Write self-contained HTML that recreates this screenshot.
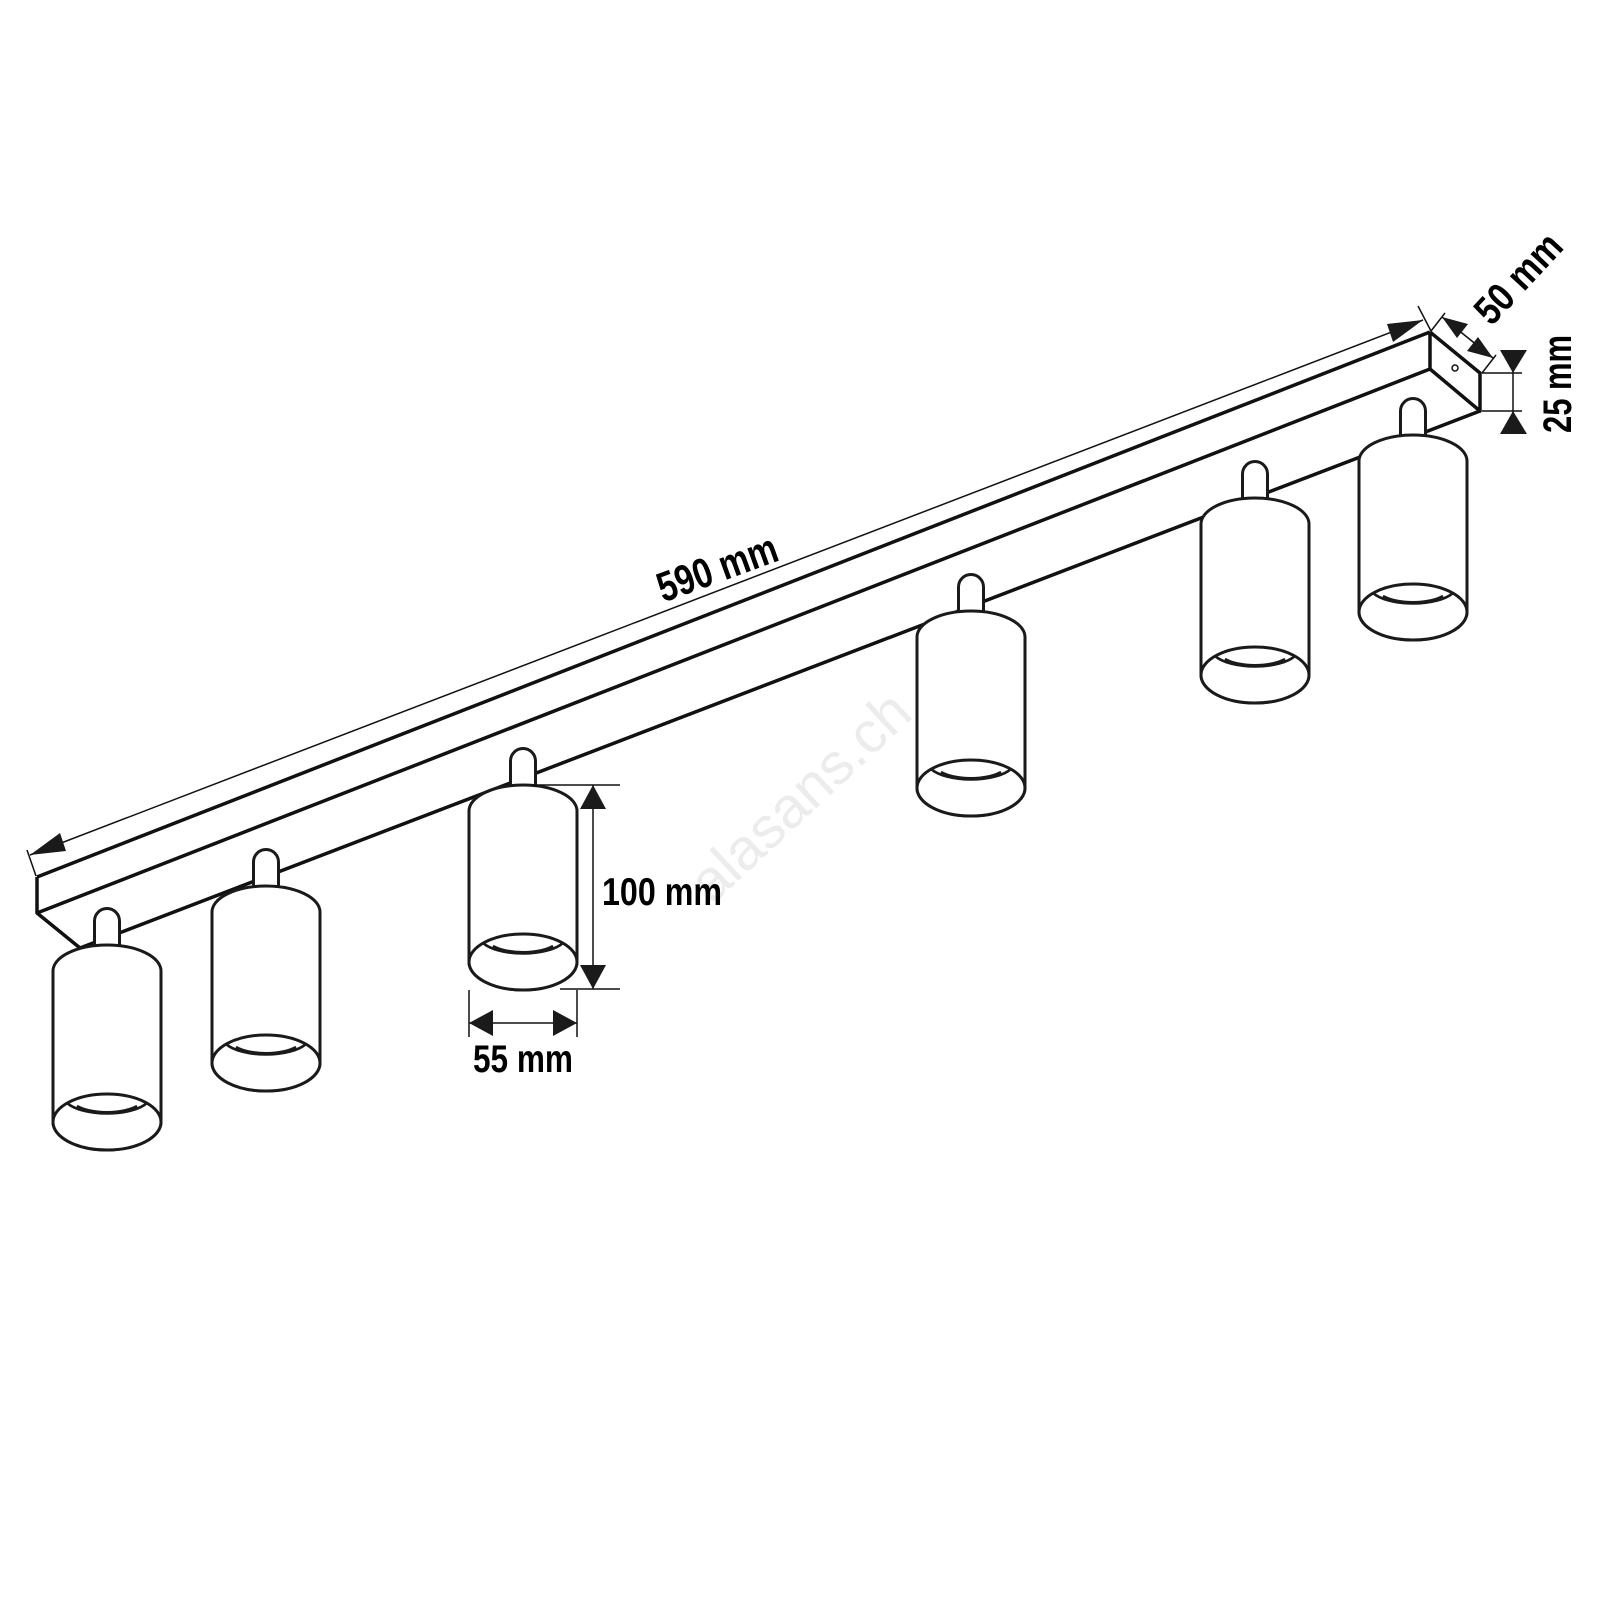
<!DOCTYPE html>
<html><head><meta charset="utf-8"><style>html,body{margin:0;padding:0;background:#fff}svg{display:block}</style></head><body>
<svg width="1600" height="1600" viewBox="0 0 1600 1600" xmlns="http://www.w3.org/2000/svg">
<defs>
<g id="lamp">
 <path d="M-12.5,2 V-24 A12.5,12.5 0 0 1 12.5,-24 V2" fill="#fff" stroke="#1a1a1a" stroke-width="3"/>
 <path d="M-54,26 A54,26 0 0 1 54,26 V177 A54,28 0 0 1 -54,177 Z" fill="#fff" stroke="#1a1a1a" stroke-width="3"/>
 <ellipse cx="0" cy="177" rx="54" ry="28" fill="#fff" stroke="#1a1a1a" stroke-width="3"/>
 <path d="M-40,158 A44,18 0 0 0 40,158" fill="none" stroke="#1a1a1a" stroke-width="2.6"/>
 <path d="M-30,161 A36,14 0 0 0 30,161" fill="none" stroke="#1a1a1a" stroke-width="2.6"/>
</g>
</defs>
<text x="803" y="815" font-family="Liberation Sans, sans-serif" font-size="58" fill="#ececec" text-anchor="middle" transform="rotate(-43 803 800)">alasans.ch</text>
<g stroke="#111" stroke-width="3.5" fill="none" stroke-linejoin="round">
 <line x1="37" y1="877" x2="1430" y2="332"/>
 <line x1="37" y1="913" x2="1430" y2="369"/>
 <line x1="80" y1="948" x2="1480" y2="411"/>
 <polyline points="37,877 37,913 80,948"/>
 <polyline points="1430,332 1480,373 1480,411 1430,369 1430,332"/>
</g>
<circle cx="1455" cy="368" r="3" fill="none" stroke="#111" stroke-width="1.5"/>
<g stroke="#111" stroke-width="1.5">
 <line x1="30" y1="855" x2="1423" y2="320"/>
 <line x1="27" y1="850" x2="36" y2="876"/>
 <line x1="1418" y1="306" x2="1431" y2="331"/>
</g>
<polygon points="30,855 60,833 66,851" fill="#1a1a1a"/>
<polygon points="1423,320 1387,324 1393,342" fill="#1a1a1a"/>
<text x="718" y="582" textLength="125" lengthAdjust="spacingAndGlyphs" font-family="Liberation Sans, sans-serif" font-weight="bold" font-size="42" fill="#000" text-anchor="middle" transform="rotate(-20 718 570)">590 mm</text>
<g stroke="#111" stroke-width="1.5">
 <line x1="1442" y1="317" x2="1493" y2="358"/>
 <line x1="1445" y1="313" x2="1431" y2="331"/>
 <line x1="1496" y1="355" x2="1482" y2="373"/>
</g>
<polygon points="1442,317 1468,324 1457,338" fill="#1a1a1a"/>
<polygon points="1493,358 1467,351 1478,337" fill="#1a1a1a"/>
<text x="1518" y="292" textLength="108" lengthAdjust="spacingAndGlyphs" font-family="Liberation Sans, sans-serif" font-weight="bold" font-size="40" fill="#000" text-anchor="middle" transform="rotate(-47 1518 278)">50 mm</text>
<g stroke="#111" stroke-width="1.5">
 <line x1="1482" y1="373" x2="1522" y2="373"/>
 <line x1="1482" y1="411" x2="1522" y2="411"/>
 <line x1="1513" y1="350" x2="1513" y2="432"/>
</g>
<polygon points="1513,373 1500,350 1527,350" fill="#1a1a1a"/>
<polygon points="1513,411 1500,434 1527,434" fill="#1a1a1a"/>
<text x="1557" y="398" textLength="98" lengthAdjust="spacingAndGlyphs" font-family="Liberation Sans, sans-serif" font-weight="bold" font-size="40" fill="#000" text-anchor="middle" transform="rotate(-90 1557 384)">25 mm</text>
<use href="#lamp" transform="translate(107,945)"/>
<use href="#lamp" transform="translate(266,886)"/>
<use href="#lamp" transform="translate(523,785)"/>
<use href="#lamp" transform="translate(971,611)"/>
<use href="#lamp" transform="translate(1255,498)"/>
<use href="#lamp" transform="translate(1413,435)"/>
<g stroke="#111" stroke-width="1.5">
 <line x1="533" y1="785" x2="620" y2="785"/>
 <line x1="560" y1="989" x2="620" y2="989"/>
 <line x1="593" y1="785" x2="593" y2="989"/>
 <line x1="469" y1="990" x2="469" y2="1037"/>
 <line x1="577" y1="990" x2="577" y2="1037"/>
 <line x1="469" y1="1023" x2="577" y2="1023"/>
</g>
<polygon points="593,785 580,809 606,809" fill="#1a1a1a"/>
<polygon points="593,989 580,965 606,965" fill="#1a1a1a"/>
<polygon points="469,1023 493,1010 493,1036" fill="#1a1a1a"/>
<polygon points="577,1023 553,1010 553,1036" fill="#1a1a1a"/>
<text x="602" y="905" textLength="120" lengthAdjust="spacingAndGlyphs" font-family="Liberation Sans, sans-serif" font-weight="bold" font-size="39" fill="#000">100 mm</text>
<text x="473" y="1072" textLength="100" lengthAdjust="spacingAndGlyphs" font-family="Liberation Sans, sans-serif" font-weight="bold" font-size="39" fill="#000">55 mm</text>
</svg>
</body></html>
